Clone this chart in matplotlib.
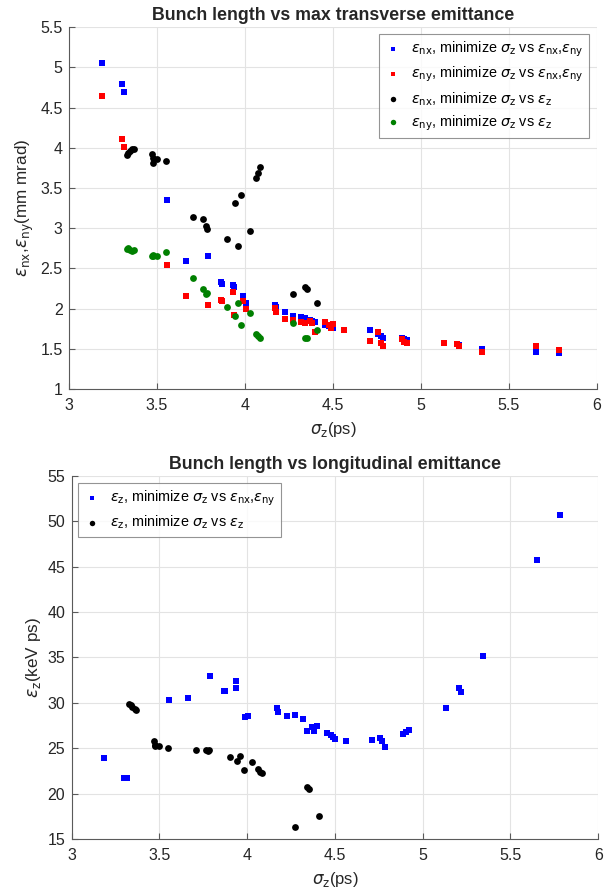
import matplotlib
matplotlib.use("Agg")
import matplotlib.pyplot as plt

plt.rcParams['font.family'] = ['Liberation Sans', 'DejaVu Sans']
plt.rcParams['mathtext.fontset'] = 'dejavusans'

# Solutions of "minimize sigma_z vs eps_nx, eps_ny"
sz_a = [3.186, 3.300, 3.315, 3.555, 3.663, 3.790, 3.866, 3.872, 3.934, 3.936,
        3.990, 4.006, 4.172, 4.175, 4.225, 4.270, 4.317, 4.340, 4.368, 4.380,
        4.400, 4.453, 4.480, 4.490, 4.500, 4.563, 4.711, 4.757, 4.770, 4.785,
        4.890, 4.905, 4.920, 5.132, 5.205, 5.218, 5.346, 5.653, 5.784]
enx_a = [5.05, 4.80, 4.70, 3.35, 2.59, 2.66, 2.33, 2.31, 2.29, 2.27,
         2.16, 2.07, 2.05, 2.02, 1.96, 1.91, 1.89, 1.88, 1.86, 1.85,
         1.83, 1.80, 1.79, 1.78, 1.76, 1.74, 1.73, 1.68, 1.66, 1.64,
         1.63, 1.62, 1.61, 1.57, 1.56, 1.55, 1.50, 1.46, 1.45]
eny_a = [4.65, 4.11, 4.01, 2.54, 2.16, 2.04, 2.11, 2.10, 2.21, 1.92,
         2.10, 1.99, 2.01, 1.96, 1.87, 1.86, 1.83, 1.82, 1.84, 1.82,
         1.71, 1.83, 1.80, 1.76, 1.81, 1.74, 1.60, 1.71, 1.57, 1.54,
         1.62, 1.59, 1.57, 1.57, 1.56, 1.54, 1.46, 1.54, 1.49]
ez_a = [23.92, 21.74, 21.74, 30.32, 30.54, 32.93, 31.27, 31.27, 32.45, 31.60,
        28.48, 28.50, 29.44, 29.03, 28.59, 28.66, 28.20, 26.93, 27.37, 26.93,
        27.48, 26.63, 26.40, 26.20, 26.00, 25.80, 25.86, 26.10, 25.80, 25.09,
        26.60, 26.80, 27.00, 29.47, 31.60, 31.24, 35.13, 45.70, 50.63]

# Solutions of "minimize sigma_z vs eps_z"
sz_b = [3.327, 3.337, 3.347, 3.360, 3.370, 3.472, 3.475, 3.477, 3.498, 3.551,
        3.707, 3.764, 3.780, 3.783, 3.900, 3.944, 3.960, 3.980, 4.026, 4.064,
        4.075, 4.086, 4.270, 4.343, 4.350, 4.410]
enx_b = [3.91, 3.93, 3.96, 3.98, 3.99, 3.92, 3.87, 3.81, 3.86, 3.84,
         3.14, 3.11, 3.03, 2.99, 2.86, 3.32, 2.78, 3.41, 2.97, 3.62,
         3.69, 3.76, 2.18, 2.27, 2.24, 2.07]
eny_b = [2.74, 2.75, 2.73, 2.72, 2.73, 2.66, 2.67, 2.65, 2.66, 2.71,
         2.38, 2.25, 2.18, 2.20, 2.02, 1.91, 2.07, 1.80, 1.94, 1.69,
         1.66, 1.63, 1.82, 1.63, 1.64, 1.73]
ez_b = [29.86, 29.70, 29.50, 29.30, 29.24, 25.75, 25.40, 25.28, 25.20, 25.02,
        24.80, 24.80, 24.72, 24.75, 23.98, 23.62, 24.17, 22.63, 23.43, 22.70,
        22.40, 22.26, 16.37, 20.75, 20.50, 17.58]

W, H = 611, 892
fig = plt.figure(figsize=(W / 100, H / 100), dpi=100)

def frac(l, t, r, b):
    return [l / W, 1 - b / H, (r - l) / W, (b - t) / H]

ax1 = fig.add_axes(frac(69, 27.3, 597, 389))
ax2 = fig.add_axes(frac(71.5, 475.7, 598.3, 839))

sq = 15
ci = 24

E = r'\epsilon'
nx = E + r'_{\mathrm{nx}}'
ny = E + r'_{\mathrm{ny}}'
ez = E + r'_{\mathrm{z}}'
sz = r'\sigma_{\mathrm{z}}'

ax1.scatter(sz_a, enx_a, s=sq, marker='s', c='#0000ff', linewidths=0,
            label=f'${nx}$, minimize ${sz}$ vs ${nx}$,${ny}$', zorder=3)
ax1.scatter(sz_a, eny_a, s=sq, marker='s', c='#ff0000', linewidths=0,
            label=f'${ny}$, minimize ${sz}$ vs ${nx}$,${ny}$', zorder=3)
ax1.scatter(sz_b, enx_b, s=ci, marker='o', c='#000000', linewidths=0,
            label=f'${nx}$, minimize ${sz}$ vs ${ez}$', zorder=3)
ax1.scatter(sz_b, eny_b, s=ci, marker='o', c='#008000', linewidths=0,
            label=f'${ny}$, minimize ${sz}$ vs ${ez}$', zorder=3)

ax2.scatter(sz_a, ez_a, s=sq, marker='s', c='#0000ff', linewidths=0,
            label=f'${ez}$, minimize ${sz}$ vs ${nx}$,${ny}$', zorder=3)
ax2.scatter(sz_b, ez_b, s=ci, marker='o', c='#000000', linewidths=0,
            label=f'${ez}$, minimize ${sz}$ vs ${ez}$', zorder=3)

ax1.set_xlim(3, 6)
ax1.set_ylim(1, 5.5)
ax1.set_xticks([3, 3.5, 4, 4.5, 5, 5.5, 6])
ax1.set_xticklabels(['3', '3.5', '4', '4.5', '5', '5.5', '6'])
ax1.set_yticks([1, 1.5, 2, 2.5, 3, 3.5, 4, 4.5, 5, 5.5])
ax1.set_yticklabels(['1', '1.5', '2', '2.5', '3', '3.5', '4', '4.5', '5', '5.5'])

ax2.set_xlim(3, 6)
ax2.set_ylim(15, 55)
ax2.set_xticks([3, 3.5, 4, 4.5, 5, 5.5, 6])
ax2.set_xticklabels(['3', '3.5', '4', '4.5', '5', '5.5', '6'])
ax2.set_yticks(list(range(15, 56, 5)))

for ax in (ax1, ax2):
    ax.grid(True, color='#e3e3e3', linewidth=0.8, zorder=0)
    ax.set_axisbelow(True)
    for side in ('top', 'right'):
        ax.spines[side].set_visible(False)
    for side in ('left', 'bottom'):
        ax.spines[side].set_color('#5a5a5a')
        ax.spines[side].set_linewidth(0.8)
    ax.tick_params(direction='in', length=4, width=0.8, color='#5a5a5a',
                   labelsize=11.5, labelcolor='#262626')
    ax.tick_params(axis='x', pad=6.5)
    ax.tick_params(axis='y', pad=4.5)
    ax.set_xlabel(f'${sz}$(ps)', fontsize=12, color='#262626', labelpad=5)

ax1.set_title('Bunch length vs max transverse emittance', fontsize=12.8,
              fontweight='bold', color='#262626', pad=5)
ax2.set_title('Bunch length vs longitudinal emittance', fontsize=12.8,
              fontweight='bold', color='#262626', pad=5)
ax1.set_ylabel(f'${nx}$,${ny}$(mm mrad)', fontsize=12.3,
               color='#262626', labelpad=3)
ax2.set_ylabel(f'${ez}$(keV ps)', fontsize=12.3, color='#262626', labelpad=3)

leg1 = ax1.legend(loc='upper right', bbox_to_anchor=(0.985, 0.981), fontsize=10.4,
                  frameon=True, fancybox=False, edgecolor='#7a7a7a',
                  handlelength=1.2, handletextpad=0.6, borderpad=0.4,
                  labelspacing=0.4, markerscale=0.8, borderaxespad=0)
leg1.get_frame().set_linewidth(0.8)
leg2 = ax2.legend(loc='upper left', bbox_to_anchor=(0.0123, 0.98), fontsize=10.4,
                  frameon=True, fancybox=False, edgecolor='#7a7a7a',
                  handlelength=1.2, handletextpad=0.6, borderpad=0.4,
                  labelspacing=0.4, markerscale=0.8, borderaxespad=0)
leg2.get_frame().set_linewidth(0.8)

fig.savefig('out.png', dpi=100)
